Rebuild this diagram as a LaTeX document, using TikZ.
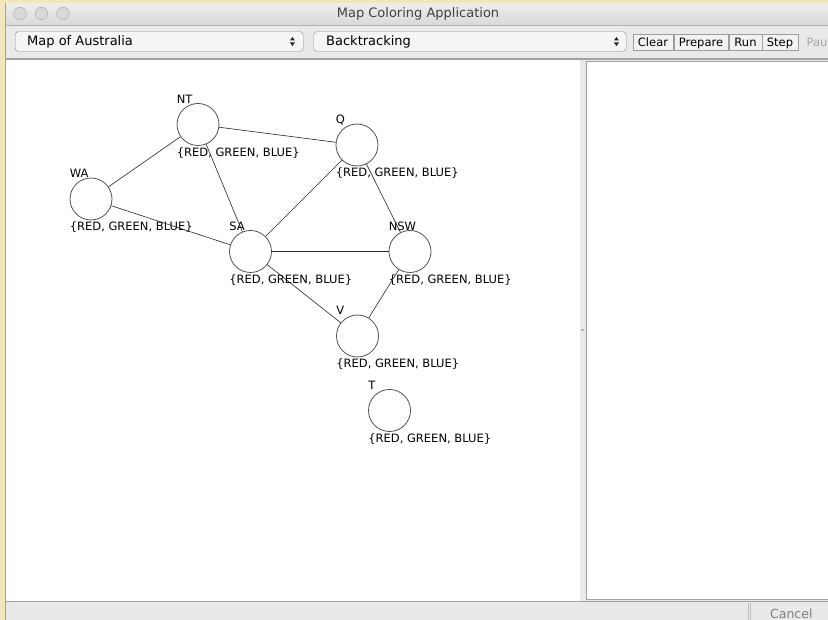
\documentclass[tikz,border=0pt]{standalone}
\usepackage{fontspec}
\setmainfont{DejaVu Sans}
\usetikzlibrary{positioning}
\definecolor{desk}{HTML}{F1E6BC}
\definecolor{chrome}{HTML}{E9E9E9}
\definecolor{frameline}{HTML}{A2A2A2}

\begin{document}
\begin{tikzpicture}[x=1pt, y=-1pt,
	region/.style={circle, draw=black!72, line width=0.75pt, minimum size=42pt, inner sep=0pt},
	statename/.style={font=\fontsize{11.5}{12}\selectfont, inner sep=0pt, anchor=base west},
	domtext/.style={font=\fontsize{11.5}{12}\selectfont, inner sep=0pt, anchor=base west, yshift=-10.5pt},
	edge/.style={draw=black!85, line width=0.6pt},
	combo/.style={draw=black!45, fill=white!96!black, rounded corners=3.5pt, minimum height=20pt, inner sep=0pt, anchor=west},
	combotext/.style={font=\fontsize{13}{14}\selectfont, inner sep=0pt, anchor=west},
	btn/.style={draw=black!38, fill=white!95!black, minimum height=16pt, inner sep=0pt, text height=9pt, text depth=0pt, font=\fontsize{11.5}{12}\selectfont},
	updown/.style={fill=black!85}]
	\useasboundingbox (0,0) rectangle (828,620);
	\clip (0,0) rectangle (828,620);
	
	\fill[desk] (0,0) rectangle (828,620);
	\filldraw[fill=chrome, draw=frameline] (5.5,3.5) rectangle (830,622);
	\shade[top color=white!93!black, bottom color=white!85!black] (6,4) rectangle (828,25);
	\draw[black!30] (6,25) -- (828,25);
	\foreach \x in {20,41.5,63}
		\filldraw[fill=black!15, draw=black!30, line width=0.5pt] (\x,13.5) circle (6.3pt);
	\node[font=\fontsize{13}{14}\selectfont, text=black!75] (title) at (418,13.5) {Map Coloring Application};
	
	\node[combo, minimum width=288pt] (mapbox) at (15,41.5) {};
	\node[combotext] (maptext) at ([xshift=12pt]mapbox.west) {Map of Australia};
	\coordinate (mapud) at ([xshift=-11pt]mapbox.east);
	\node[combo, minimum width=312.5pt] (algbox) at (313.5,41.5) {};
	\node[combotext] (algtext) at ([xshift=12.5pt]algbox.west) {Backtracking};
	\coordinate (algud) at ([xshift=-10pt]algbox.east);
	\foreach \c in {mapud, algud} {
		\fill[updown] ([shift={(-2.5,-1)}]\c) -- ([shift={(2.5,-1)}]\c) -- ([shift={(0,-4.5)}]\c) -- cycle;
		\fill[updown] ([shift={(-2.5,1)}]\c) -- ([shift={(2.5,1)}]\c) -- ([shift={(0,4.5)}]\c) -- cycle;
	}
	\node[btn, minimum width=40pt] (clear) at (653,42) {Clear};
	\node[btn, minimum width=54pt] (prepare) at (701,42) {Prepare};
	\node[btn, minimum width=33pt] (run) at (745.5,42) {Run};
	\node[btn, minimum width=36pt] (stepbtn) at (780,42) {Step};
	\node[font=\fontsize{11.5}{12}\selectfont, text=black!35, inner sep=0pt, anchor=base west] (pause) at (806.5,46.5) {Paus};
	
	\draw[frameline, line width=1.2pt] (6,59) -- (828,59);
	\fill[white] (6,59.6) rectangle (580,600.5);
	\fill[chrome] (580,59.6) rectangle (586,600.5);
	\filldraw[fill=white, draw=frameline, line width=0.9pt] (586,61.8) rectangle (830,599);
	\draw[black!50, line width=1pt] (581.5,330.5) -- (583.5,329.5);
	
	\draw[frameline, line width=1.4pt] (6,601.5) -- (828,601.5);
	\draw[black!25] (748.5,602.5) -- (748.5,620) (750.5,602.5) -- (750.5,620);
	\node[font=\fontsize{12.5}{13}\selectfont, text=black!50, inner sep=0pt, anchor=base] (cancel) at (791.3,618.5) {Cancel};
	
	\foreach \s/\x/\y in {NT/198/124.5, WA/91/199, Q/357/145, SA/250.5/251.5, NSW/410/251.5, V/357.5/336, T/389.5/410.5} {
		\node[region] (\s) at (\x,\y) {};
		\node[statename] (\s-name) at (\s.west |- \s.north) {\s};
		\node[domtext] (\s-dom) at (\s.west |- \s.south) {\{RED, GREEN, BLUE\}};
	}
	
	\draw[edge] (WA) -- (NT);
	\draw[edge] (WA) -- (SA);
	\draw[edge] (NT) -- (Q);
	\draw[edge] (NT) -- (SA);
	\draw[edge] (Q) -- (SA);
	\draw[edge] (Q) -- (NSW);
	\draw[edge] (SA) -- (NSW);
	\draw[edge] (SA) -- (V);
	\draw[edge] (NSW) -- (V);
\end{tikzpicture}
\end{document}
